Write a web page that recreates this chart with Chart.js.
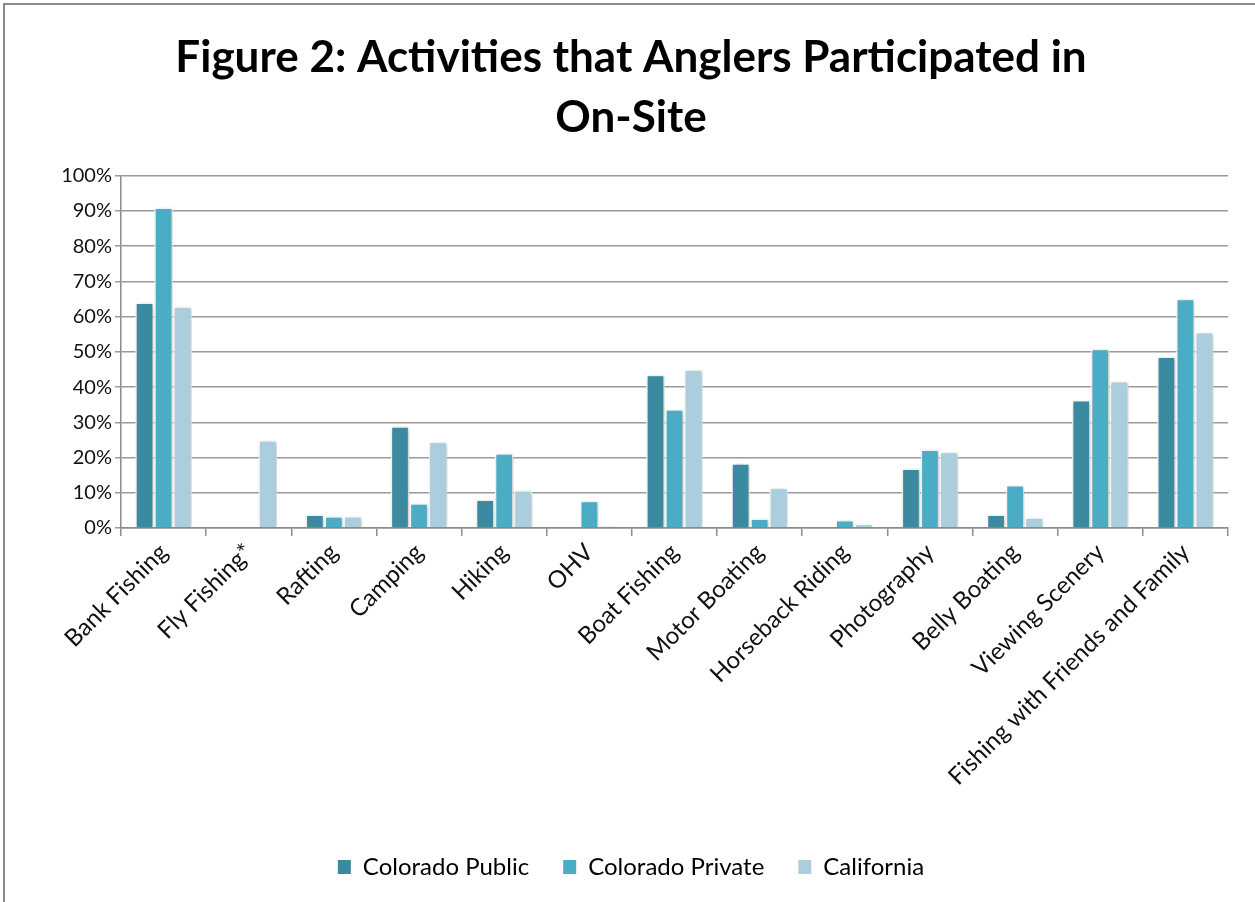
<!DOCTYPE html>
<html lang="en">
<head>
  <meta charset="UTF-8" />
  <title>Figure 2: Activities that Anglers Participated in On-Site</title>
  <script src="https://cdn.jsdelivr.net/npm/chart.js"></script>
  <style>
    html, body {
      margin: 0;
      padding: 0;
      background: white;
      overflow: hidden;
    }
    .frame {
      position: absolute;
      left: 3px;
      top: 3px;
      width: 1260px;
      height: 910px;
      border-left: 2px solid #8c8c8c;
      border-top: 2px solid #8c8c8c;
    }
    .wrap {
      position: absolute;
      left: 0;
      top: 0;
      width: 1255px;
      height: 902px;
    }
  </style>
</head>
<body>
  <div class="frame"></div>
  <div class="wrap"><canvas id="chart"></canvas></div>

  <script>
    const categories = [
      'Bank Fishing', 'Fly Fishing*', 'Rafting', 'Camping', 'Hiking', 'OHV',
      'Boat Fishing', 'Motor Boating', 'Horseback Riding', 'Photography',
      'Belly Boating', 'Viewing Scenery', 'Fishing with Friends and Family'
    ];
    const coloradoPublic  = [64.0, 0,    3.8, 28.9, 8.1,  0.2, 43.5, 18.4, 0,   16.9, 3.8,  36.3, 48.7];
    const coloradoPrivate = [91.0, 0,    3.3, 7.0,  21.2, 7.7, 33.7, 2.7,  2.3, 22.3, 12.2, 50.9, 65.1];
    const california      = [62.9, 24.9, 3.3, 24.5, 10.7, 0.5, 45.0, 11.4, 1.2, 21.6, 3.0,  41.7, 55.6];
    const yTicks = [0, 10, 20, 30, 40, 50, 60, 70, 80, 90, 100];

    const font = "Lato, 'Open Sans', sans-serif";

    // soft drop shadow under the bars, like the spreadsheet original
    const barShadow = {
      id: 'barShadow',
      beforeDatasetsDraw(chart) {
        const c = chart.ctx;
        c.save();
        c.shadowColor = 'rgba(0,0,0,0.28)';
        c.shadowBlur = 4;
        c.shadowOffsetX = 1;
        c.shadowOffsetY = 1;
      },
      afterDatasetsDraw(chart) {
        chart.ctx.restore();
      }
    };

    function series(label, data, color) {
      return {
        label: label,
        data: data,
        backgroundColor: color,
        borderColor: '#ffffff',
        borderWidth: 1.5,
        barPercentage: 0.98,
        categoryPercentage: 0.67
      };
    }

    new Chart(document.getElementById('chart'), {
      type: 'bar',
      data: {
        labels: categories,
        datasets: [
          series('Colorado Public', coloradoPublic, '#3c8aa0'),
          series('Colorado Private', coloradoPrivate, '#4bacc6'),
          series('California', california, '#aacedd')
        ]
      },
      plugins: [barShadow],
      options: {
        responsive: true,
        maintainAspectRatio: false,
        animation: false,
        layout: { padding: { left: 34, right: 27, top: 0, bottom: 13 } },
        plugins: {
          title: {
            display: true,
            text: ['Figure 2: Activities that Anglers Participated in', 'On-Site'],
            color: '#000',
            font: { family: font, size: 44, weight: 'bold', lineHeight: 1.36 },
            padding: { top: 28, bottom: 28 }
          },
          legend: {
            position: 'bottom',
            labels: {
              color: '#222',
              font: { family: font, size: 24 },
              boxWidth: 13,
              boxHeight: 14,
              padding: 34,
              generateLabels(chart) {
                return chart.data.datasets.map((d, i) => ({
                  text: d.label,
                  fillStyle: d.backgroundColor,
                  strokeStyle: d.backgroundColor,
                  lineWidth: 0,
                  datasetIndex: i
                }));
              }
            }
          },
          tooltip: { enabled: false }
        },
        scales: {
          x: {
            afterFit(axis) { axis.height = 293; },
            grid: {
              offset: true,
              drawOnChartArea: false,
              drawTicks: true,
              tickLength: 8,
              color: '#8c8c8c',
              lineWidth: 1.5
            },
            border: { color: '#8c8c8c', width: 1.5 },
            ticks: {
              color: '#111',
              font: { family: font, size: 24 },
              maxRotation: 45,
              minRotation: 45,
              autoSkip: false,
              padding: 2
            }
          },
          y: {
            min: 0,
            max: 100,
            afterFit(axis) { axis.width = 87; },
            afterBuildTicks(axis) {
              axis.ticks = yTicks.map(v => ({ value: v }));
            },
            grid: {
              color: '#9a9a9a',
              lineWidth: 1.5,
              tickLength: 6
            },
            border: { color: '#8c8c8c', width: 1.5 },
            ticks: {
              color: '#111',
              font: { family: font, size: 20 },
              padding: 3,
              callback: v => v + '%'
            }
          }
        }
      }
    });
  </script>
</body>
</html>
